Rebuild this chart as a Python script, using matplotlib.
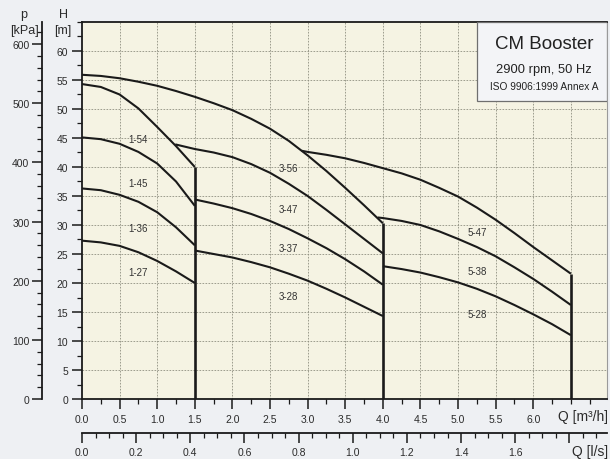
import matplotlib
matplotlib.use('Agg')
import matplotlib.pyplot as plt
from matplotlib.patches import Rectangle
from matplotlib.ticker import MultipleLocator, FixedLocator

plt.rcParams['font.family'] = ['Liberation Sans', 'DejaVu Sans']

# ---------------- data ----------------
q_1_54 = [0.0, 0.25, 0.5, 0.75, 1.0, 1.25, 1.5]
h_1_54 = [54.3, 53.8, 52.5, 50.1, 46.9, 43.6, 40.0]
q_1_45 = [0.0, 0.25, 0.5, 0.75, 1.0, 1.25, 1.5]
h_1_45 = [45.1, 44.8, 44.0, 42.6, 40.6, 37.5, 33.3]
q_1_36 = [0.0, 0.25, 0.5, 0.75, 1.0, 1.25, 1.5]
h_1_36 = [36.3, 36.0, 35.2, 34.0, 32.2, 29.6, 26.5]
q_1_27 = [0.0, 0.25, 0.5, 0.75, 1.0, 1.25, 1.5]
h_1_27 = [27.3, 27.0, 26.4, 25.3, 23.8, 22.0, 20.0]

q_3_56 = [0.0, 0.25, 0.5, 0.75, 1.0, 1.25, 1.5, 1.75, 2.0, 2.25, 2.5, 2.75,
          3.0, 3.25, 3.5, 3.75, 4.0]
h_3_56 = [55.9, 55.7, 55.3, 54.7, 54.0, 53.1, 52.1, 51.0, 49.8, 48.3, 46.6, 44.5,
          42.0, 39.3, 36.4, 33.4, 30.3]
q_3_47 = [1.24, 1.5, 1.75, 2.0, 2.25, 2.5, 2.75, 3.0, 3.25, 3.5, 3.75, 4.0]
h_3_47 = [43.9, 43.1, 42.5, 41.7, 40.5, 39.0, 37.1, 35.0, 32.6, 30.1, 27.6, 25.1]
q_3_37 = [1.5, 1.75, 2.0, 2.25, 2.5, 2.75, 3.0, 3.25, 3.5, 3.75, 4.0]
h_3_37 = [34.4, 33.7, 32.9, 31.9, 30.7, 29.3, 27.7, 26.0, 24.1, 22.0, 19.7]
q_3_28 = [1.5, 1.75, 2.0, 2.25, 2.5, 2.75, 3.0, 3.25, 3.5, 3.75, 4.0]
h_3_28 = [25.6, 25.0, 24.4, 23.6, 22.7, 21.6, 20.4, 19.0, 17.5, 15.9, 14.3]

q_5_47 = [2.92, 3.0, 3.25, 3.5, 3.75, 4.0, 4.25, 4.5, 4.75, 5.0, 5.25, 5.5,
          5.75, 6.0, 6.25, 6.5]
h_5_47 = [42.8, 42.6, 42.1, 41.5, 40.7, 39.8, 38.9, 37.8, 36.4, 34.9, 33.0, 30.9,
          28.6, 26.2, 23.9, 21.6]
q_5_38 = [3.93, 4.0, 4.25, 4.5, 4.75, 5.0, 5.25, 5.5, 5.75, 6.0, 6.25, 6.5]
h_5_38 = [31.3, 31.2, 30.7, 30.0, 28.9, 27.6, 26.2, 24.6, 22.7, 20.7, 18.5, 16.2]
q_5_28 = [4.0, 4.25, 4.5, 4.75, 5.0, 5.25, 5.5, 5.75, 6.0, 6.25, 6.5]
h_5_28 = [22.9, 22.4, 21.8, 21.0, 20.1, 19.0, 17.7, 16.2, 14.6, 12.9, 11.0]

curve_names = ['1-54', '1-45', '1-36', '1-27', '3-56', '3-47', '3-37', '3-28',
               '5-47', '5-38', '5-28']
label_q = [0.75, 0.75, 0.75, 0.75, 2.75, 2.75, 2.75, 2.75, 5.26, 5.26, 5.26]
label_h = [44.8, 37.2, 29.4, 21.9, 39.8, 32.8, 26.0, 17.8, 28.8, 22.1, 14.7]

q_ticks = [0.0, 0.5, 1.0, 1.5, 2.0, 2.5, 3.0, 3.5, 4.0, 4.5, 5.0, 5.5, 6.0]
ls_ticks = [0.0, 0.2, 0.4, 0.6, 0.8, 1.0, 1.2, 1.4, 1.6]
h_ticks = [0, 5, 10, 15, 20, 25, 30, 35, 40, 45, 50, 55, 60]
p_ticks = [0, 100, 200, 300, 400, 500, 600]

title_lines = ['CM Booster', '2900 rpm, 50 Hz', 'ISO 9906:1999 Annex A']

curves = [(q_1_54, h_1_54), (q_1_45, h_1_45), (q_1_36, h_1_36), (q_1_27, h_1_27),
          (q_3_56, h_3_56), (q_3_47, h_3_47), (q_3_37, h_3_37), (q_3_28, h_3_28),
          (q_5_47, h_5_47), (q_5_38, h_5_38), (q_5_28, h_5_28)]
# curves whose end carries the vertical limit line
limit_curves = [(q_1_54, h_1_54), (q_3_56, h_3_56), (q_5_47, h_5_47)]

# ---------------- figure ----------------
W, H = 610, 460
fig = plt.figure(figsize=(W / 100, H / 100), dpi=100)
fig.patch.set_facecolor('#eef0f3')
ax = fig.add_axes([82 / W, 60 / H, 525 / W, 377 / H])
ax.set_facecolor('#f5f3e3')
ax.set_xlim(0, 6.98)
ax.set_ylim(0, 65)

txt_col = '#2b2b2b'
line_col = '#1a1a1a'

for q, h in curves:
    ax.plot(q, h, color=line_col, lw=1.5, solid_capstyle='butt',
            solid_joinstyle='round', zorder=3)
for q, h in limit_curves:
    ax.plot([q[-1], q[-1]], [0, h[-1]], color=line_col, lw=1.9,
            solid_capstyle='butt', zorder=3)

for name, xq, yh in zip(curve_names, label_q, label_h):
    ax.text(xq, yh, name, ha='center', va='center', fontsize=7,
            color='#333333', zorder=4)

# grid
ax.xaxis.set_major_locator(FixedLocator(q_ticks))
ax.xaxis.set_minor_locator(MultipleLocator(0.25))
ax.yaxis.set_major_locator(FixedLocator(h_ticks))
ax.yaxis.set_minor_locator(MultipleLocator(2.5))
for xv in q_ticks[1:] + [6.5]:
    ax.axvline(xv, color='#8f8f80', lw=0.6, ls=(0, (2, 1.6)), zorder=1)
for yv in h_ticks[1:]:
    ax.axhline(yv, color='#8f8f80', lw=0.6, ls=(0, (2, 1.6)), zorder=1)

ax.set_xticklabels([f'{v:.1f}' for v in q_ticks])
ax.set_yticklabels([str(v) for v in h_ticks])
ax.tick_params(axis='both', which='major', length=7, width=1.1,
               labelsize=7.5, colors=line_col, labelcolor=txt_col, pad=3)
ax.tick_params(axis='both', which='minor', length=3.5, width=0.9, colors=line_col)
ax.tick_params(axis='x', pad=4)

for s in ['left', 'bottom', 'top']:
    ax.spines[s].set_color(line_col)
    ax.spines[s].set_linewidth(1.3)
ax.spines['right'].set_color('#9a9a9a')
ax.spines['right'].set_linewidth(0.8)

# secondary pressure axis (kPa)
g = 9.80665
pax = ax.secondary_yaxis(-40 / 525, functions=(lambda hh: hh * g, lambda pp: pp / g))
pax.yaxis.set_major_locator(FixedLocator(p_ticks))
pax.yaxis.set_minor_locator(MultipleLocator(20))
pax.set_yticklabels([str(v) for v in p_ticks])
pax.tick_params(which='major', length=7, width=1.1, labelsize=7.5,
                colors=line_col, labelcolor=txt_col, pad=2)
pax.tick_params(which='minor', length=3.5, width=0.9, colors=line_col)
pax.spines['left'].set_linewidth(1.3)
pax.spines['left'].set_color(line_col)

# secondary flow axis (l/s)
lax = ax.secondary_xaxis(-34 / 377, functions=(lambda qq: qq / 3.6, lambda ll: ll * 3.6))
lax.xaxis.set_major_locator(FixedLocator(ls_ticks + [1.8]))
lax.xaxis.set_minor_locator(MultipleLocator(0.05))
lax.set_xticklabels([f'{v:.1f}' for v in ls_ticks] + [''])
lax.tick_params(which='major', length=7, width=1.1, labelsize=7.5,
                colors=line_col, labelcolor=txt_col, pad=3)
lax.tick_params(which='minor', length=3.5, width=0.9, colors=line_col)
lax.spines['bottom'].set_linewidth(1.3)
lax.spines['bottom'].set_color(line_col)

# axis titles
fig.text(24 / W, 1 - 15 / H, 'p', ha='center', va='center', fontsize=9, color=txt_col)
fig.text(24 / W, 1 - 31 / H, '[kPa]', ha='center', va='center', fontsize=9, color=txt_col)
fig.text(63 / W, 1 - 15 / H, 'H', ha='center', va='center', fontsize=9, color=txt_col)
fig.text(63 / W, 1 - 31 / H, '[m]', ha='center', va='center', fontsize=9, color=txt_col)
fig.text(608 / W, 1 - 417 / H, 'Q [m³/h]', ha='right', va='center', fontsize=10, color=txt_col)
fig.text(608 / W, 1 - 452 / H, 'Q [l/s]', ha='right', va='center', fontsize=10, color=txt_col)

# title box
ax.add_patch(Rectangle((395 / 525, 1 - 79 / 377), 130 / 525, 79 / 377,
                       transform=ax.transAxes, facecolor='#f3f4f7',
                       edgecolor='#6f6f6f', lw=0.9, zorder=5))
ax.text(0.88, (400 - 45) / 377, title_lines[0], transform=ax.transAxes,
        ha='center', va='center', fontsize=13.5, color='#222222', zorder=6)
ax.text(0.88, (400 - 70) / 377, title_lines[1], transform=ax.transAxes,
        ha='center', va='center', fontsize=9.3, color='#222222', zorder=6)
ax.text(0.88, (400 - 87) / 377, title_lines[2], transform=ax.transAxes,
        ha='center', va='center', fontsize=7.3, color='#222222', zorder=6)

fig.savefig('out.png', dpi=100, facecolor=fig.get_facecolor())
